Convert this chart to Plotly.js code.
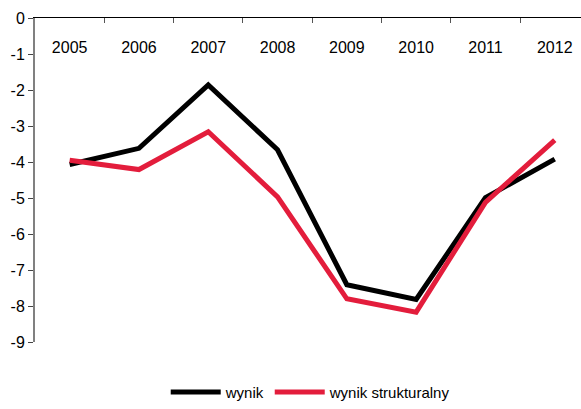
<!DOCTYPE html>
<html>
<head>
<meta charset="utf-8">
<script src="https://cdn.plot.ly/plotly-3.0.1.min.js"></script>
<style>
  html, body { margin: 0; padding: 0; background: #fff; }
  #chart { width: 581px; height: 409px; }
</style>
</head>
<body>
<div id="chart"></div>
<script>
// data
var years = ["2005", "2006", "2007", "2008", "2009", "2010", "2011", "2012"];
var wynik = [-4.07, -3.62, -1.86, -3.66, -7.41, -7.82, -4.99, -3.92];
var wynikStrukturalny = [-3.95, -4.21, -3.16, -4.97, -7.8, -8.17, -5.12, -3.39];
var yTicks = [0, -1, -2, -3, -4, -5, -6, -7, -8, -9];
var yTickText = ["0", "-1", "-2", "-3", "-4", "-5", "-6", "-7", "-8", "-9"];

var font = "Liberation Sans Narrow, Arial Narrow, Liberation Sans, Arial, sans-serif";
var xRange = [-0.5, 7.379];

var trace1 = {
    x: years,
    y: wynik,
    name: "wynik",
    type: "scatter",
    mode: "lines",
    xaxis: "x",
    line: {color: "#000000", width: 5}
};

// second series sits on the overlay axis that carries the year labels
var trace2 = {
    x: years,
    y: wynikStrukturalny,
    name: "wynik strukturalny",
    type: "scatter",
    mode: "lines",
    xaxis: "x2",
    line: {color: "#e31d3c", width: 5}
};

var layout = {
    width: 581,
    height: 409,
    margin: {l: 35, r: 0, t: 18, b: 63},
    paper_bgcolor: "#ffffff",
    plot_bgcolor: "#ffffff",
    font: {family: font, size: 16, color: "#000000"},
    showlegend: true,
    legend: {
        orientation: "h",
        x: 0.505,
        xanchor: "center",
        y: -0.155,
        yanchor: "middle",
        font: {family: font, size: 15, color: "#000000"},
        itemwidth: 50
    },
    xaxis: {
        type: "category",
        side: "top",
        range: xRange,
        showgrid: false,
        zeroline: false,
        showline: true,
        linecolor: "#000000",
        linewidth: 1.5,
        ticks: "inside",
        tickson: "boundaries",
        ticklen: 5,
        tickcolor: "#555555",
        showticklabels: false
    },
    xaxis2: {
        type: "category",
        overlaying: "x",
        anchor: "free",
        position: 0.945,
        side: "bottom",
        range: xRange,
        showgrid: false,
        zeroline: false,
        showline: false,
        ticks: "",
        tickfont: {family: font, size: 16, color: "#000000"}
    },
    yaxis: {
        range: [-9, 0],
        showgrid: false,
        zeroline: false,
        showline: true,
        linecolor: "#808080",
        linewidth: 2,
        ticks: "outside",
        ticklen: 5,
        tickcolor: "#444444",
        tickvals: yTicks,
        ticktext: yTickText,
        tickfont: {family: font, size: 16, color: "#000000"}
    }
};

Plotly.newPlot("chart", [trace1, trace2], layout, {displayModeBar: false, staticPlot: true});
</script>
</body>
</html>
